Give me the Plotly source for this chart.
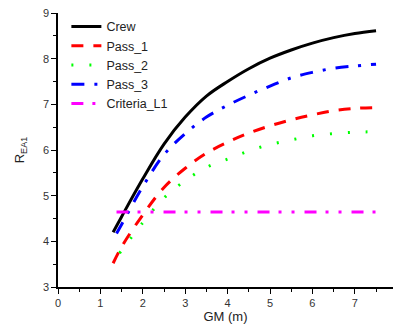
import plotly.graph_objects as go

# ---- data ----
crew_gm = [1.3, 1.5, 2.0, 2.5, 3.0, 3.5, 4.0, 4.5, 5.0, 5.5, 6.0, 6.5, 7.0, 7.5]
crew_r = [4.20, 4.54, 5.37, 6.13, 6.72, 7.18, 7.50, 7.78, 8.01, 8.19, 8.34, 8.46, 8.55, 8.61]

pass1_gm = [1.3, 1.5, 2.0, 2.5, 3.0, 3.5, 4.0, 4.5, 5.0, 5.5, 6.0, 6.5, 7.0, 7.5]
pass1_r = [3.52, 3.88, 4.58, 5.18, 5.60, 5.93, 6.17, 6.37, 6.53, 6.66, 6.77, 6.86, 6.91, 6.93]

pass2_gm = [1.45, 2.0, 2.5, 3.0, 3.5, 4.0, 4.5, 5.0, 5.5, 6.0, 6.5, 7.0, 7.5]
pass2_r = [3.74, 4.41, 4.95, 5.33, 5.62, 5.80, 5.98, 6.12, 6.22, 6.31, 6.36, 6.39, 6.40]

pass3_gm = [1.38, 1.5, 2.0, 2.5, 3.0, 3.5, 4.0, 4.5, 5.0, 5.5, 6.0, 6.5, 7.0, 7.5]
pass3_r = [4.17, 4.37, 5.20, 5.90, 6.36, 6.72, 6.98, 7.20, 7.40, 7.58, 7.70, 7.79, 7.84, 7.88]

crit_gm = [1.38, 7.5]
crit_r = [4.64, 4.64]

x_ticks = [0, 1, 2, 3, 4, 5, 6, 7]
y_ticks = [3, 4, 5, 6, 7, 8, 9]

fig = go.Figure()
fig.add_trace(go.Scatter(x=crew_gm, y=crew_r, mode="lines", name="Crew",
                         line=dict(color="black", width=3, shape="spline")))
fig.add_trace(go.Scatter(x=pass1_gm, y=pass1_r, mode="lines", name="Pass_1",
                         line=dict(color="#FF0000", width=3, dash="12px,10px", shape="spline")))
fig.add_trace(go.Scatter(x=pass2_gm, y=pass2_r, mode="lines", name="Pass_2",
                         line=dict(color="#00FF00", width=3, dash="2px,16px", shape="spline")))
fig.add_trace(go.Scatter(x=pass3_gm, y=pass3_r, mode="lines", name="Pass_3",
                         line=dict(color="#0000FF", width=3, dash="13px,10px,3px,10px", shape="spline")))
fig.add_trace(go.Scatter(x=crit_gm, y=crit_r, mode="lines", name="Criteria_L1",
                         line=dict(color="#FF00FF", width=3, dash="12px,9px,3px,10px,3px,10px")))

axis_common = dict(
    showline=True, linecolor="black", linewidth=1.5,
    ticks="outside", ticklen=5, tickwidth=1.2, tickcolor="black",
    showgrid=False, zeroline=False, mirror=False, automargin=False,
    tickfont=dict(family="Liberation Sans, Arial, sans-serif", size=11, color="#333"),
    minor=dict(ticks="outside", ticklen=3, tickwidth=1, tickcolor="black", dtick=0.5),
)

fig.update_layout(
    width=393, height=331,
    margin=dict(l=58, r=0, t=13, b=44),
    paper_bgcolor="white", plot_bgcolor="white",
    font=dict(family="Liberation Sans, Arial, sans-serif", color="black"),
    showlegend=True,
    legend=dict(x=0.025, y=1.004, xanchor="left", yanchor="top",
                bgcolor="rgba(0,0,0,0)", borderwidth=0,
                font=dict(size=12.5, color="#222"),
                tracegroupgap=0, itemwidth=30),
    xaxis=dict(range=[0, 7.9], tickvals=x_ticks, ticktext=[str(v) for v in x_ticks],
               title=dict(text="GM (m)", font=dict(size=13, color="#222"), standoff=4),
               **axis_common),
    yaxis=dict(range=[3, 9], tickvals=y_ticks, ticktext=[str(v) for v in y_ticks],
               title=dict(text="R<sub>EA1</sub>", font=dict(size=13, color="#222")),
               **axis_common),
)

fig.write_html("out.html", config={"displayModeBar": False},
               post_script="document.body.style.margin='0';document.body.style.padding='0';")
